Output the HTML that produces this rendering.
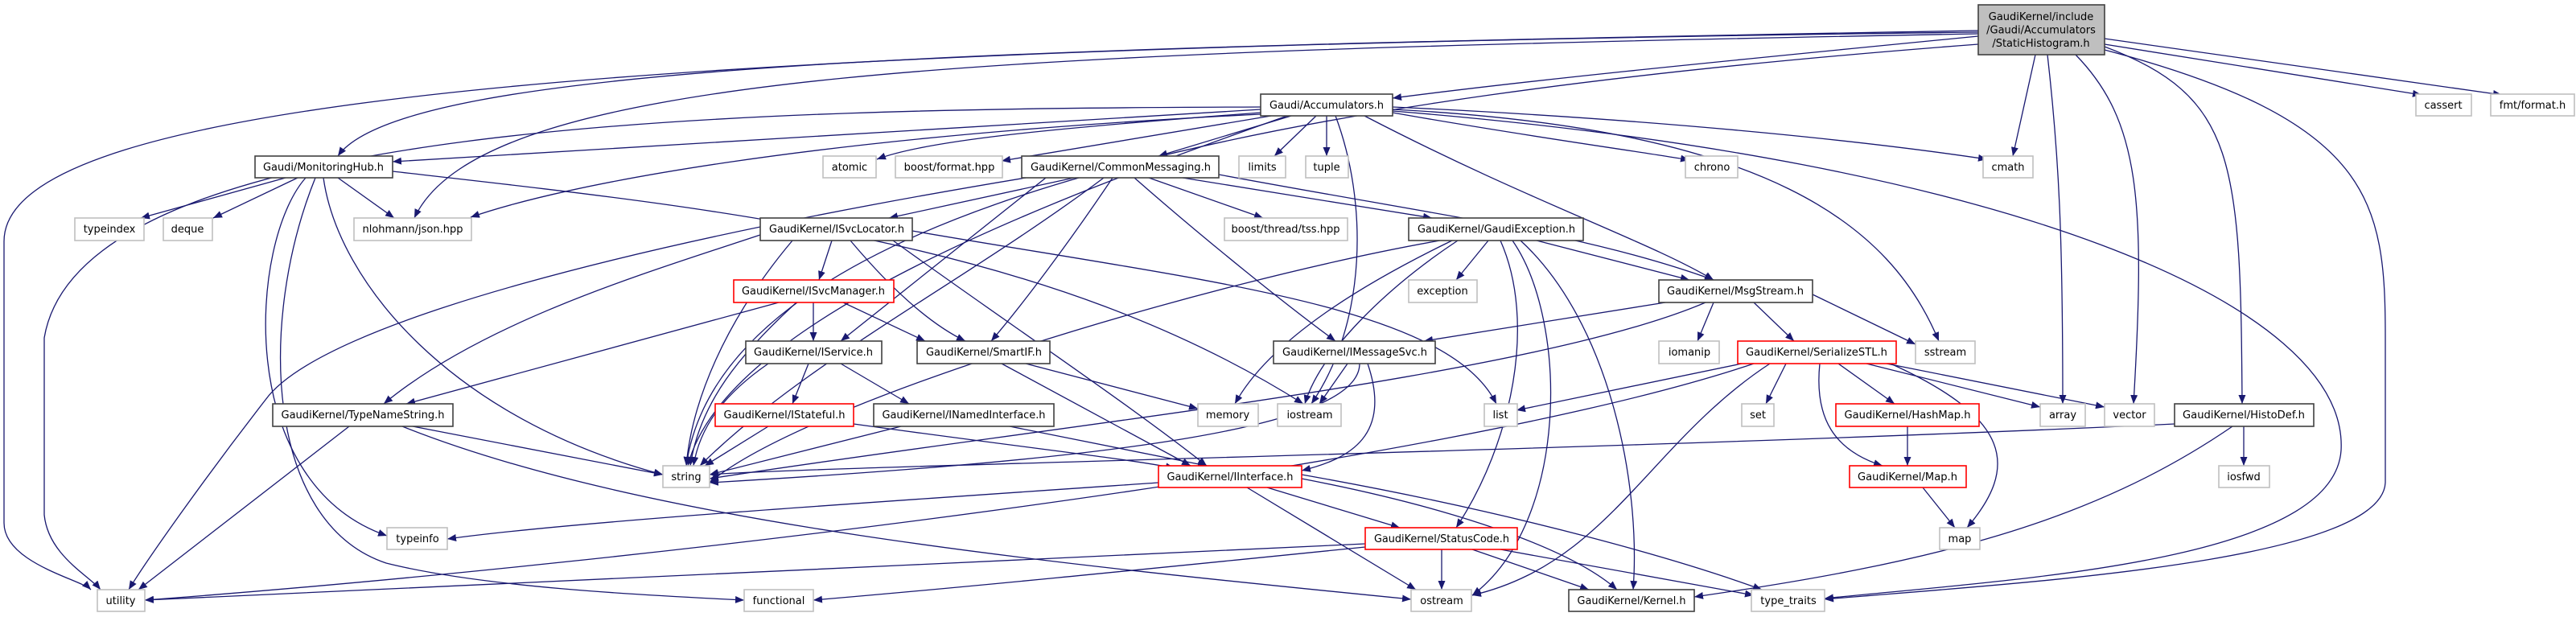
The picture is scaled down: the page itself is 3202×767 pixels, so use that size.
<!DOCTYPE html>
<html><head><meta charset="utf-8"><style>
html,body{margin:0;padding:0;background:#fff;}
svg{display:block;}
text{font-family:"DejaVu Sans","Liberation Sans",sans-serif;font-size:13px;fill:#000;text-anchor:middle;}
.e{fill:none;stroke:#191970;stroke-width:1.3;marker-end:url(#a);}
.k{fill:#fff;stroke:#404040;stroke-width:1.6;}
.g{fill:#fff;stroke:#bfbfbf;stroke-width:1.6;}
.r{fill:#fff;stroke:#ff0000;stroke-width:1.6;}
</style></head><body>
<svg width="3202" height="767" viewBox="0 0 3202 767" xmlns="http://www.w3.org/2000/svg">
<defs><marker id="a" markerUnits="userSpaceOnUse" markerWidth="12" markerHeight="10" refX="11" refY="4.5" orient="auto"><path d="M0,0 L11,4.5 L0,9 z" fill="#191970"/></marker></defs>
<g>
<path class="e" d="M2459 45 C2100 80 1900 100 1731 122"/>
<path class="e" d="M2459 38 C1200 60 500 80 420 194"/>
<path class="e" d="M2459 42 C1200 65 600 90 515 271"/>
<path class="e" d="M2459 40 C800 60 5 120 5 300 L5 650 C5 700 100 720 113 733"/>
<path class="e" d="M2459 55 C1600 120 900 250 853 579"/>
<path class="e" d="M2530 68 L2502 194"/>
<path class="e" d="M2616 55 L3010 118"/>
<path class="e" d="M2616 48 L3110 118"/>
<path class="e" d="M2545 68 C2560 200 2564 300 2564 502"/>
<path class="e" d="M2580 68 C2660 150 2667 250 2652 502"/>
<path class="e" d="M2616 58 C2780 120 2785 200 2787 502"/>
<path class="e" d="M2616 62 C2950 150 2965 250 2965 420 L2965 600 C2960 700 2500 725 2268 745"/>
<path class="e" d="M1567 133 C900 135 100 150 55 420 L55 640 C60 690 110 715 125 733"/>
<path class="e" d="M1567 136 C1200 160 700 185 488 201"/>
<path class="e" d="M1567 140 C1300 160 1150 175 1090 198"/>
<path class="e" d="M1580 144 L1245 200"/>
<path class="e" d="M1605 144 L1440 194"/>
<path class="e" d="M1636 144 L1584 194"/>
<path class="e" d="M1649 144 L1649 194"/>
<path class="e" d="M1567 142 C1000 170 700 230 585 270"/>
<path class="e" d="M1731 140 C1900 170 2050 190 2100 199"/>
<path class="e" d="M1731 133 C2100 150 2350 180 2470 198"/>
<path class="e" d="M1696 144 C1900 250 2050 300 2130 348"/>
<path class="e" d="M1731 136 C2200 160 2350 280 2410 424"/>
<path class="e" d="M1731 138 C2500 200 2920 380 2910 560 C2900 700 2500 720 2268 744"/>
<path class="e" d="M1600 144 C1300 250 900 400 855 579"/>
<path class="e" d="M1660 144 C1700 250 1700 400 1630 502"/>
<path class="e" d="M355 221 L175 271"/>
<path class="e" d="M370 221 L265 271"/>
<path class="e" d="M420 221 L490 271"/>
<path class="e" d="M402 221 C420 350 560 520 824 590"/>
<path class="e" d="M380 221 C310 300 290 600 481 666"/>
<path class="e" d="M392 221 C320 400 330 650 480 700 C600 730 800 740 925 746"/>
<path class="e" d="M488 213 C900 260 1300 300 1620 502"/>
<path class="e" d="M1335 221 L1105 271"/>
<path class="e" d="M1428 221 L1570 271"/>
<path class="e" d="M1470 221 L1780 271"/>
<path class="e" d="M1515 217 C1800 270 1970 290 2130 348"/>
<path class="e" d="M1410 221 C1500 300 1600 380 1660 424"/>
<path class="e" d="M1383 221 C1330 300 1270 380 1232 424"/>
<path class="e" d="M1300 221 C1200 300 1100 380 1045 424"/>
<path class="e" d="M1372 221 C1200 350 1000 450 870 579"/>
<path class="e" d="M1275 221 C800 300 400 400 330 497 C250 600 180 700 160 733"/>
<path class="e" d="M1034 299 L1018 348"/>
<path class="e" d="M1057 299 C1100 350 1150 400 1200 424"/>
<path class="e" d="M985 299 C900 400 860 500 853 579"/>
<path class="e" d="M945 292 C800 340 600 400 477 502"/>
<path class="e" d="M1134 287 C1500 350 1800 380 1860 502"/>
<path class="e" d="M1110 299 C1250 400 1400 500 1500 579"/>
<path class="e" d="M1011 376 L1011 424"/>
<path class="e" d="M1048 376 L1150 424"/>
<path class="e" d="M968 376 L505 502"/>
<path class="e" d="M990 376 C920 440 870 500 858 579"/>
<path class="e" d="M1005 452 L985 502"/>
<path class="e" d="M1045 452 L1130 502"/>
<path class="e" d="M955 452 C900 490 870 530 862 579"/>
<path class="e" d="M955 530 L876 579"/>
<path class="e" d="M1061 527 C1300 560 1400 570 1460 582"/>
<path class="e" d="M1120 530 L882 590"/>
<path class="e" d="M1255 530 L1500 579"/>
<path class="e" d="M513 530 L824 590"/>
<path class="e" d="M434 530 L172 733"/>
<path class="e" d="M500 530 C800 650 1300 700 1754 745"/>
<path class="e" d="M1275 452 L1489 508"/>
<path class="e" d="M1245 452 L1480 579"/>
<path class="e" d="M1850 299 L1810 348"/>
<path class="e" d="M1910 299 L2100 348"/>
<path class="e" d="M1790 299 C1500 350 1000 500 882 600"/>
<path class="e" d="M1805 299 C1700 350 1580 420 1535 502"/>
<path class="e" d="M1812 299 C1720 360 1640 440 1622 502"/>
<path class="e" d="M1865 299 C1910 400 1880 550 1810 656"/>
<path class="e" d="M1880 299 C1950 400 1950 650 1830 740"/>
<path class="e" d="M1890 299 C2000 400 2040 600 2030 733"/>
<path class="e" d="M2070 376 L1770 424"/>
<path class="e" d="M2130 376 L2110 424"/>
<path class="e" d="M2180 376 L2230 424"/>
<path class="e" d="M2253 366 L2381 428"/>
<path class="e" d="M2120 376 C1900 470 1300 530 882 595"/>
<path class="e" d="M1675 452 L1640 502"/>
<path class="e" d="M1700 452 C1730 540 1680 570 1618 585"/>
<path class="e" d="M1690 452 C1690 530 1400 570 882 600"/>
<path class="e" d="M2165 452 L1885 510"/>
<path class="e" d="M2220 452 L2195 502"/>
<path class="e" d="M2285 452 L2355 502"/>
<path class="e" d="M2262 452 C2255 520 2280 560 2340 579"/>
<path class="e" d="M2350 452 C2500 520 2510 580 2445 656"/>
<path class="e" d="M2320 452 L2536 506"/>
<path class="e" d="M2345 452 L2616 506"/>
<path class="e" d="M2200 452 C2050 550 2000 700 1830 740"/>
<path class="e" d="M2180 452 C1800 580 800 700 180 746"/>
<path class="e" d="M2371 530 L2371 579"/>
<path class="e" d="M2390 606 L2430 656"/>
<path class="e" d="M2789 530 L2789 579"/>
<path class="e" d="M2703 527 C2000 560 1000 580 882 590"/>
<path class="e" d="M2775 530 C2600 650 2400 700 2106 742"/>
<path class="e" d="M1440 600 C1000 630 700 650 556 670"/>
<path class="e" d="M1575 606 L1740 656"/>
<path class="e" d="M1550 606 L1760 733"/>
<path class="e" d="M1618 595 C1800 630 1950 680 2010 733"/>
<path class="e" d="M1618 590 C1900 640 2100 700 2190 733"/>
<path class="e" d="M1697 676 C1200 700 500 730 180 746"/>
<path class="e" d="M1697 680 C1400 710 1200 730 1011 746"/>
<path class="e" d="M1792 683 L1792 733"/>
<path class="e" d="M1830 683 L1975 733"/>
<path class="e" d="M1865 683 L2180 740"/>
</g>
<g>
<rect x="2459" y="6" width="157" height="62" fill="#bfbfbf" stroke="#404040" stroke-width="1.6"/>
<text x="2537" y="25">GaudiKernel/include</text>
<text x="2537" y="41.5">/Gaudi/Accumulators</text>
<text x="2537" y="58">/StaticHistogram.h</text>

<rect class="k" x="1567" y="117" width="164" height="27"/><text x="1649" y="135" textLength="142" lengthAdjust="spacingAndGlyphs">Gaudi/Accumulators.h</text>
<rect class="g" x="3003" y="117" width="69" height="27"/><text x="3037" y="135">cassert</text>
<rect class="g" x="3096" y="117" width="104" height="27"/><text x="3148" y="135">fmt/format.h</text>

<rect class="k" x="317" y="194" width="171" height="27"/><text x="402" y="212" textLength="150" lengthAdjust="spacingAndGlyphs">Gaudi/MonitoringHub.h</text>
<rect class="g" x="1023" y="194" width="66" height="27"/><text x="1056" y="212">atomic</text>
<rect class="g" x="1113" y="194" width="133" height="27"/><text x="1180" y="212">boost/format.hpp</text>
<rect class="k" x="1270" y="194" width="245" height="27"/><text x="1393" y="212" textLength="224" lengthAdjust="spacingAndGlyphs">GaudiKernel/CommonMessaging.h</text>
<rect class="g" x="1540" y="194" width="58" height="27"/><text x="1569" y="212">limits</text>
<rect class="g" x="1623" y="194" width="53" height="27"/><text x="1649" y="212">tuple</text>
<rect class="g" x="2095" y="194" width="65" height="27"/><text x="2128" y="212">chrono</text>
<rect class="g" x="2465" y="194" width="62" height="27"/><text x="2496" y="212">cmath</text>

<rect class="g" x="93" y="271" width="86" height="28"/><text x="136" y="289">typeindex</text>
<rect class="g" x="203" y="271" width="61" height="28"/><text x="233" y="289">deque</text>
<rect class="g" x="440" y="271" width="146" height="28"/><text x="513" y="289">nlohmann/json.hpp</text>
<rect class="k" x="945" y="271" width="189" height="28"/><text x="1040" y="289" textLength="168" lengthAdjust="spacingAndGlyphs">GaudiKernel/ISvcLocator.h</text>
<rect class="g" x="1522" y="271" width="153" height="28"/><text x="1598" y="289">boost/thread/tss.hpp</text>
<rect class="k" x="1751" y="271" width="217" height="28"/><text x="1860" y="289" textLength="196" lengthAdjust="spacingAndGlyphs">GaudiKernel/GaudiException.h</text>

<rect class="r" x="912" y="348" width="199" height="28"/><text x="1011" y="366" textLength="178" lengthAdjust="spacingAndGlyphs">GaudiKernel/ISvcManager.h</text>
<rect class="g" x="1751" y="348" width="85" height="28"/><text x="1793" y="366">exception</text>
<rect class="k" x="2062" y="348" width="191" height="28"/><text x="2157" y="366" textLength="170" lengthAdjust="spacingAndGlyphs">GaudiKernel/MsgStream.h</text>

<rect class="k" x="927" y="424" width="169" height="28"/><text x="1011" y="442" textLength="148" lengthAdjust="spacingAndGlyphs">GaudiKernel/IService.h</text>
<rect class="k" x="1140" y="424" width="165" height="28"/><text x="1223" y="442" textLength="144" lengthAdjust="spacingAndGlyphs">GaudiKernel/SmartIF.h</text>
<rect class="k" x="1583" y="424" width="201" height="28"/><text x="1684" y="442" textLength="180" lengthAdjust="spacingAndGlyphs">GaudiKernel/IMessageSvc.h</text>
<rect class="g" x="2062" y="424" width="75" height="28"/><text x="2100" y="442">iomanip</text>
<rect class="r" x="2160" y="424" width="197" height="28"/><text x="2258" y="442" textLength="176" lengthAdjust="spacingAndGlyphs">GaudiKernel/SerializeSTL.h</text>
<rect class="g" x="2381" y="424" width="74" height="28"/><text x="2418" y="442">sstream</text>

<rect class="k" x="339" y="502" width="224" height="28"/><text x="451" y="520" textLength="203" lengthAdjust="spacingAndGlyphs">GaudiKernel/TypeNameString.h</text>
<rect class="r" x="889" y="502" width="172" height="28"/><text x="975" y="520" textLength="151" lengthAdjust="spacingAndGlyphs">GaudiKernel/IStateful.h</text>
<rect class="k" x="1086" y="502" width="224" height="28"/><text x="1198" y="520" textLength="203" lengthAdjust="spacingAndGlyphs">GaudiKernel/INamedInterface.h</text>
<rect class="g" x="1489" y="502" width="75" height="28"/><text x="1526" y="520">memory</text>
<rect class="g" x="1588" y="502" width="79" height="28"/><text x="1628" y="520">iostream</text>
<rect class="g" x="1845" y="502" width="41" height="28"/><text x="1865" y="520">list</text>
<rect class="g" x="2165" y="502" width="40" height="28"/><text x="2185" y="520">set</text>
<rect class="r" x="2282" y="502" width="178" height="28"/><text x="2371" y="520" textLength="157" lengthAdjust="spacingAndGlyphs">GaudiKernel/HashMap.h</text>
<rect class="g" x="2536" y="502" width="56" height="28"/><text x="2564" y="520">array</text>
<rect class="g" x="2616" y="502" width="62" height="28"/><text x="2647" y="520">vector</text>
<rect class="k" x="2703" y="502" width="173" height="28"/><text x="2789" y="520" textLength="152" lengthAdjust="spacingAndGlyphs">GaudiKernel/HistoDef.h</text>

<rect class="g" x="824" y="579" width="58" height="27"/><text x="853" y="597">string</text>
<rect class="r" x="1440" y="579" width="178" height="27"/><text x="1529" y="597" textLength="157" lengthAdjust="spacingAndGlyphs">GaudiKernel/IInterface.h</text>
<rect class="r" x="2299" y="579" width="145" height="27"/><text x="2371" y="597" textLength="124" lengthAdjust="spacingAndGlyphs">GaudiKernel/Map.h</text>
<rect class="g" x="2758" y="579" width="63" height="27"/><text x="2789" y="597">iosfwd</text>

<rect class="g" x="481" y="656" width="75" height="27"/><text x="519" y="674">typeinfo</text>
<rect class="r" x="1697" y="656" width="189" height="27"/><text x="1792" y="674" textLength="168" lengthAdjust="spacingAndGlyphs">GaudiKernel/StatusCode.h</text>
<rect class="g" x="2411" y="656" width="50" height="27"/><text x="2436" y="674">map</text>

<rect class="g" x="121" y="733" width="59" height="27"/><text x="150" y="751">utility</text>
<rect class="g" x="925" y="733" width="86" height="27"/><text x="968" y="751">functional</text>
<rect class="g" x="1754" y="733" width="75" height="27"/><text x="1792" y="751">ostream</text>
<rect class="k" x="1950" y="733" width="156" height="27"/><text x="2028" y="751" textLength="135" lengthAdjust="spacingAndGlyphs">GaudiKernel/Kernel.h</text>
<rect class="g" x="2177" y="733" width="91" height="27"/><text x="2223" y="751">type_traits</text>
</g>
</svg>
</body></html>
